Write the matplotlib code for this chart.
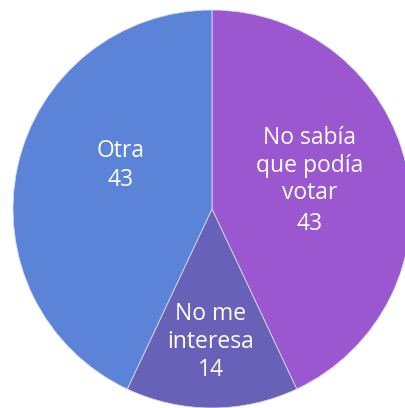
import matplotlib.pyplot as plt

# Motivos para no votar
categorias = ['No sabía\nque podía\nvotar', 'No me\ninteresa', 'Otra']
valores = [43, 14, 43]
colores = ['#9a57d0', '#6861b8', '#5b84d9']

plt.rcParams['font.family'] = ['Open Sans', 'DejaVu Sans']

fig = plt.figure(figsize=(4.05, 4.08), dpi=100)
ax = fig.add_axes([0, 0, 1, 1])

ax.pie(valores, colors=colores, startangle=90, counterclock=False,
       radius=1.0, wedgeprops=dict(edgecolor='#d8d8ee', linewidth=0.6))

# escala igual en x e y (199 px por unidad de radio)
r_px = 199.0
ax.set_xlim(-212 / r_px, (405 - 212) / r_px)
ax.set_ylim((209 - 408) / r_px, 209 / r_px)
ax.set_aspect('auto')
ax.axis('off')

# posición (x, y de la primera línea) y separación del valor
posiciones = [(0.49, 0.325, 0.155), (-0.005, -0.56, 0.14), (-0.46, 0.26, 0.145)]
paso = 0.138
for nombre, valor, (x, y, extra) in zip(categorias, valores, posiciones):
    lineas = nombre.split('\n')
    for i, linea in enumerate(lineas):
        ax.text(x, y - i * paso, linea, ha='center', va='baseline',
                color='white', fontsize=16.5)
    ax.text(x, y - (len(lineas) - 1) * paso - extra, str(valor),
            ha='center', va='baseline', color='white', fontsize=16.5)

fig.savefig('out.png', dpi=100)
